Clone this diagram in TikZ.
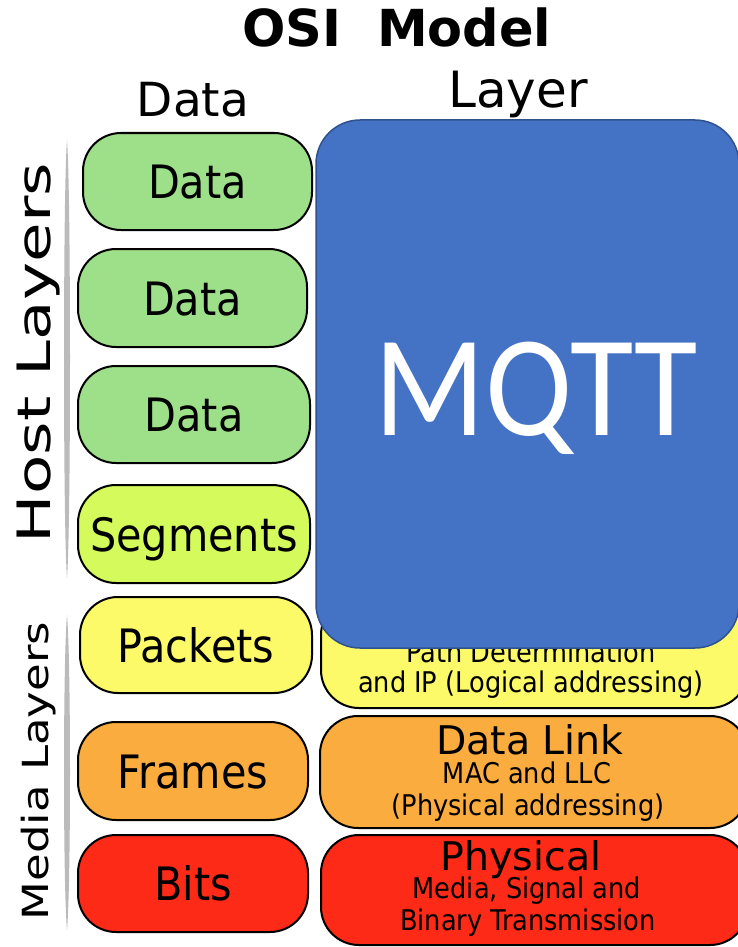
\documentclass[tikz,border=0pt]{standalone}
\usepackage{fontspec}
\setmainfont{DejaVu Sans}
\newfontfamily\condfont{DejaVu Sans Condensed}
\newfontfamily\mqttfont{Carlito}
\definecolor{cgreen}{HTML}{9EE08A}
\definecolor{clime}{HTML}{D4FA5C}
\definecolor{cyellow}{HTML}{FDFA6A}
\definecolor{corange}{HTML}{FBAC3E}
\definecolor{cred}{HTML}{FC2A17}
\definecolor{mqttblue}{HTML}{4472C4}
\definecolor{mqttedge}{HTML}{2F528F}
\definecolor{barcol}{HTML}{BBBBBB}
\begin{document}
\begin{tikzpicture}[x=0.5pt,y=-0.5pt,
  lbox/.style={draw=black, line width=1pt, rounded corners=19pt, inner sep=0pt,
    text height=17pt, text depth=0pt, font=\condfont\fontsize{23pt}{27pt}\selectfont},
  rbox/.style={draw=black, line width=1pt, rounded corners=19pt, inner sep=0pt},
  ttl/.style={anchor=base, inner sep=0pt, text depth=0pt, font=\fontsize{19.75pt}{24pt}\selectfont},
  sub/.style={anchor=base, inner sep=0pt, text height=10pt, font=\condfont\fontsize{14.25pt}{17pt}\selectfont},
  bar/.style={fill=barcol}]
\clip (0,0) rectangle (738,947);
\fill[white] (0,0) rectangle (738,947);

% headers
\node[anchor=base, inner sep=0pt, font=\bfseries\fontsize{25.5pt}{30pt}\selectfont] (title) at (397,47) {OSI\ \ Model};
\node[anchor=base, inner sep=0pt, font=\fontsize{23.5pt}{28pt}\selectfont] (hdata) at (193,117) {Data};
\node[anchor=base, inner sep=0pt, font=\fontsize{25pt}{30pt}\selectfont] (hlayer) at (518,108) {Layer};

% side labels
\node[anchor=base, rotate=90, xscale=1.4, inner sep=0pt, font=\fontsize{23pt}{27pt}\selectfont] (host) at (50,353) {Host Layers};
\node[anchor=base, rotate=90, xscale=1.25, inner sep=0pt, font=\fontsize{18pt}{22pt}\selectfont] (media) at (48,771) {Media Layers};
\fill[bar] (67,140) .. controls (71,190) and (71,528) .. (67,578) .. controls (63,528) and (63,190) .. (67,140);
\fill[bar] (67,615) .. controls (71,660) and (71,885) .. (67,930) .. controls (63,885) and (63,660) .. (67,615);

% data units
\node[lbox, fill=cgreen, minimum width=114.5pt, minimum height=48.5pt] (d7) at (197.5,181.5) {Data};
\node[lbox, fill=cgreen, minimum width=114.5pt, minimum height=49pt] (d6) at (192.5,298) {Data};
\node[lbox, fill=cgreen, minimum width=116pt, minimum height=48.5pt] (d5) at (194,414.5) {Data};
\node[lbox, fill=clime, minimum width=116pt, minimum height=49pt] (d4) at (194,534) {Segments};
\node[lbox, fill=cyellow, minimum width=116pt, minimum height=48pt] (d3) at (196,645) {Packets};
\node[lbox, fill=corange, minimum width=115pt, minimum height=49pt] (d2) at (193,771) {Frames};
\node[lbox, fill=cred, minimum width=115pt, minimum height=48.5pt] (d1) at (193,883.5) {Bits};

% layers
\node[rbox, fill=cyellow, minimum width=213.5pt, minimum height=55.5pt] (l3) at (534.5,652.5) {};
\node[rbox, fill=corange, minimum width=214pt, minimum height=56pt] (l2) at (534,772) {};
\node[rbox, fill=cred, minimum width=213.5pt, minimum height=55pt] (l1) at (534.5,890) {};

\node[sub] (l3a) at (531,662) {Path Determination};
\node[sub] (l3b) at (531,692) {and IP (Logical addressing)};
\node[ttl] (l2t) at (530,754) {Data Link};
\node[sub] (l2a) at (527,783) {MAC and LLC};
\node[sub] (l2b) at (528,815) {(Physical addressing)};
\node[ttl] (l1t) at (521,870) {Physical};
\node[sub] (l1a) at (527,898) {Media, Signal and};
\node[sub] (l1b) at (528,930) {Binary Transmission};

% MQTT overlay
\node[draw=mqttedge, line width=0.75pt, fill=mqttblue, rounded corners=22pt, inner sep=0pt,
  minimum width=211.5pt, minimum height=264pt] (mqtt) at (527.5,384) {};
\node[anchor=base, inner sep=0pt, text=white, xscale=0.9, font=\mqttfont\fontsize{72pt}{80pt}\selectfont] (mqtttext) at (536.5,435) {MQTT};
\end{tikzpicture}
\end{document}
